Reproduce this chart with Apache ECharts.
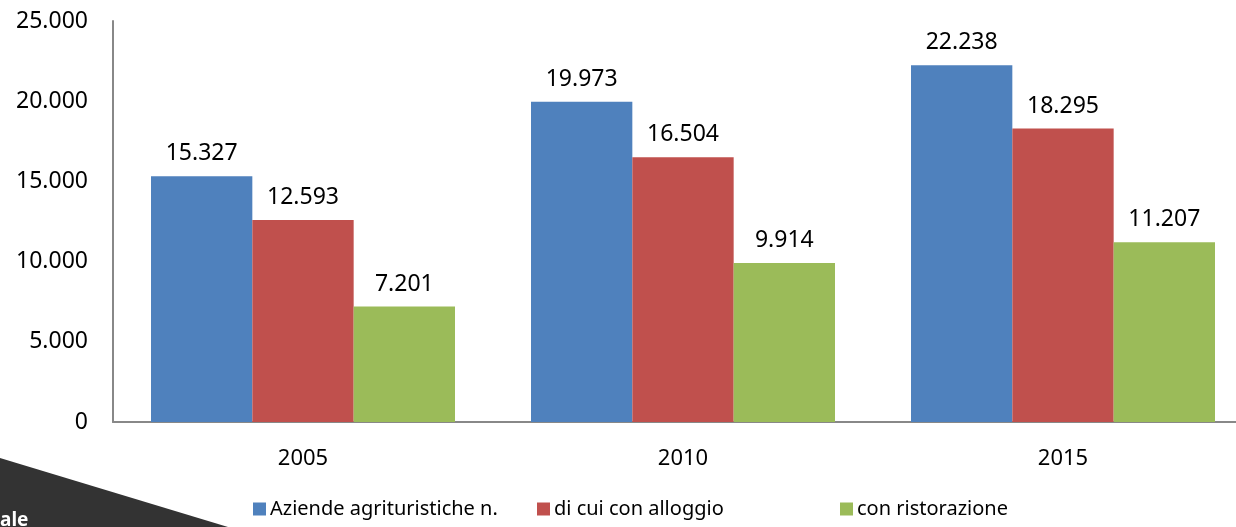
<!DOCTYPE html>
<html>
<head>
  <meta charset="utf-8">
  <title>Agriturismi</title>
  <script src="https://cdn.jsdelivr.net/npm/echarts@6/dist/echarts.min.js"></script>
</head>
<style>
  * { padding: 0; margin: 0; }
  html, body { width: 1236px; height: 527px; overflow: hidden; background: #fff; }
  /* il grafico continua oltre il bordo destro, come nell'originale */
  #main { width: 1253px; height: 527px; position: absolute; left: 0; top: 0; }
</style>
<body>
  <div id="main"></div>
  <script type="text/javascript">
    // dati
    var anni = ['2005', '2010', '2015'];
    var aziende = [15327, 19973, 22238];
    var alloggio = [12593, 16504, 18295];
    var ristorazione = [7201, 9914, 11207];
    var nomi = ['Aziende agrituristiche n.', 'di cui con alloggio', 'con ristorazione'];
    var colori = ['#4F81BD', '#C0504D', '#9BBB59'];

    var FONT = '"Noto Sans", "Open Sans", sans-serif';

    // separatore migliaia con il punto
    function fmt(v) {
      return String(v).replace(/\B(?=(\d{3})+(?!\d))/g, '.');
    }

    function serie(nome, dati, colore) {
      return {
        name: nome,
        type: 'bar',
        data: dati,
        barGap: 0,
        barCategoryGap: '20%',
        itemStyle: { color: colore },
        label: {
          show: true,
          position: 'top',
          distance: 11,
          color: '#000',
          fontFamily: FONT,
          fontSize: 23,
          formatter: function (p) { return fmt(p.value); }
        }
      };
    }

    function legenda(i, left) {
      return {
        data: [nomi[i]],
        left: left,
        top: 499,
        padding: 0,
        itemWidth: 13,
        itemHeight: 13,
        itemGap: 0,
        icon: 'rect',
        textStyle: { fontFamily: FONT, fontSize: 20, color: '#000', padding: [0, 0, 0, -1] }
      };
    }

    var option = {
      animation: false,
      grid: { left: 113, top: 21, right: 0, height: 401 },
      legend: [legenda(0, 253), legenda(1, 537), legenda(2, 840)],
      xAxis: {
        type: 'category',
        data: anni,
        axisLine: { lineStyle: { color: '#888', width: 2 } },
        axisTick: { show: false },
        axisLabel: { color: '#000', fontFamily: FONT, fontSize: 22, margin: 26 }
      },
      yAxis: {
        type: 'value',
        min: 0,
        max: 25000,
        interval: 5000,
        splitLine: { show: false },
        axisLine: { show: true, lineStyle: { color: '#888', width: 2 } },
        axisTick: { show: false },
        axisLabel: {
          color: '#000', fontFamily: FONT, fontSize: 23, margin: 25,
          formatter: function (v) { return fmt(v); }
        }
      },
      series: [
        serie(nomi[0], aziende, colori[0]),
        serie(nomi[1], alloggio, colori[1]),
        serie(nomi[2], ristorazione, colori[2])
      ],
      graphic: [
        {
          type: 'polygon',
          shape: { points: [[0, 458], [228, 527], [0, 527]] },
          style: { fill: '#333333' }
        },
        {
          type: 'text',
          left: 0,
          top: 511,
          style: { text: 'ale', fill: '#fff', font: 'bold 19px ' + FONT }
        }
      ]
    };

    var myChart = echarts.init(document.getElementById('main'));
    myChart.setOption(option);
  </script>
</body>
</html>
